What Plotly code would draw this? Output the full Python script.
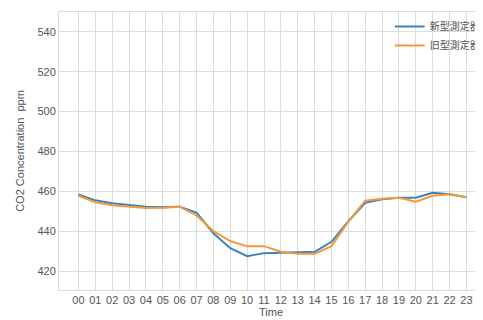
import plotly.graph_objects as go

hours = ["00","01","02","03","04","05","06","07","08","09","10","11",
         "12","13","14","15","16","17","18","19","20","21","22","23"]
new_device = [458.5, 455.5, 454.0, 453.0, 452.3, 452.0, 452.3, 449.3, 439.0, 431.5, 427.5, 429.0,
              429.3, 429.5, 429.7, 434.7, 445.0, 454.3, 456.0, 456.8, 456.8, 459.3, 458.5, 457.0]
old_device = [457.8, 454.5, 453.0, 452.3, 451.7, 451.8, 452.3, 448.0, 440.0, 435.0, 432.5, 432.5,
              429.7, 428.7, 428.7, 432.5, 444.8, 455.3, 456.3, 456.8, 454.8, 457.8, 458.5, 457.0]
names = ["新型測定器", "旧型測定器"]
yticks = [420, 440, 460, 480, 500, 520, 540]

xs = list(range(len(hours)))
fig = go.Figure()
fig.add_trace(go.Scatter(x=xs, y=new_device, mode="lines", name=names[0],
                         line=dict(color="#3a84bd", width=2)))
fig.add_trace(go.Scatter(x=xs, y=old_device, mode="lines", name=names[1],
                         line=dict(color="#f5973a", width=2)))

grid = "#dcdcdc"
tickfont = dict(family="Liberation Sans, Arial, sans-serif", size=11, color="#555555")
# page body adds an 8px offset; figure sized to fit the 483x320 window
fig.update_layout(
    width=475, height=312,
    margin=dict(l=51, r=0, t=4, b=30, autoexpand=False),
    paper_bgcolor="white", plot_bgcolor="white",
    showlegend=True,
    legend=dict(x=0.78, y=1.0, xanchor="left", yanchor="top",
                bgcolor="rgba(0,0,0,0)", borderwidth=0,
                font=dict(family="Noto Sans CJK JP", size=10, color="#555555"),
                tracegroupgap=0, itemwidth=30),
    xaxis=dict(range=[-1.15, 23.98], tickmode="array", tickvals=xs, ticktext=hours,
               showgrid=True, gridcolor=grid, gridwidth=1, zeroline=False,
               showline=True, linecolor=grid, mirror=True, ticks="",
               tickfont=tickfont, automargin=False,
               title=dict(text="Time", standoff=3,
                          font=dict(family="Liberation Sans, Arial, sans-serif", size=11, color="#555555"))),
    yaxis=dict(range=[410.5, 550], tickmode="array", tickvals=yticks,
               showgrid=True, gridcolor=grid, gridwidth=1, zeroline=False,
               showline=True, linecolor=grid, mirror=False, ticks="",
               tickfont=tickfont, automargin=False,
               title=dict(text="CO2 Concentration  ppm", standoff=10,
                          font=dict(family="Liberation Sans, Arial, sans-serif", size=11, color="#555555"))),
)
fig.write_html("out.html")
